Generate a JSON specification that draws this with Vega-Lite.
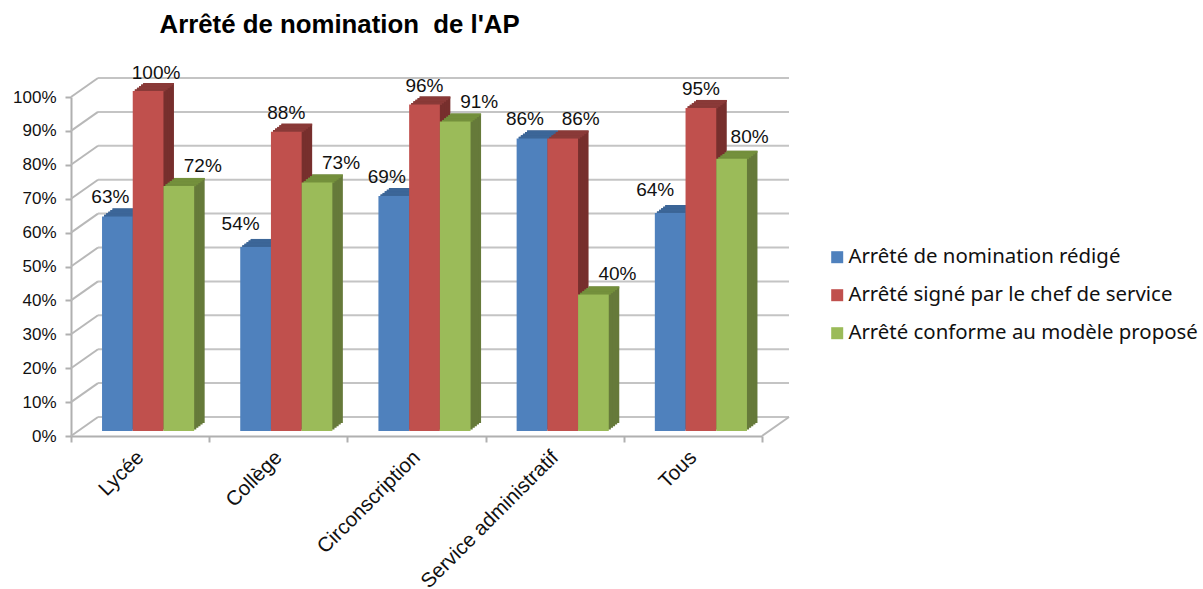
{
"$schema":"https://vega.github.io/schema/vega-lite/v6.json",
"width":691,"height":339,
"autosize":{"type":"none"},
"padding":{"left":71,"top":97,"right":441,"bottom":153},
"background":"white",
"title":{"text":"Arrêté de nomination \u00a0de l'AP","anchor":"start","dx":147,"offset":25,"font":"Liberation Sans","fontSize":25.8,"fontWeight":"bold","color":"black"},
"config":{"view":{"stroke":null},"axis":{"labelOverlap":false},"axisY":{"tickCount":11,"values":[0,0.1,0.2,0.3,0.4,0.5,0.6,0.7,0.8,0.9,1]}},
"datasets":{
"ticks":[{"v":0},{"v":0.1},{"v":0.2},{"v":0.3},{"v":0.4},{"v":0.5},{"v":0.6},{"v":0.7},{"v":0.8},{"v":0.9},{"v":1}],
"floor":[{"v":0}],
"bars":[
{"cat":"Lycée","series":"Arrêté de nomination rédigé","value":0.63},
{"cat":"Lycée","series":"Arrêté signé par le chef de service","value":1},
{"cat":"Lycée","series":"Arrêté conforme au modèle proposé","value":0.72},
{"cat":"Collège","series":"Arrêté de nomination rédigé","value":0.54},
{"cat":"Collège","series":"Arrêté signé par le chef de service","value":0.88},
{"cat":"Collège","series":"Arrêté conforme au modèle proposé","value":0.73},
{"cat":"Circonscription","series":"Arrêté de nomination rédigé","value":0.69},
{"cat":"Circonscription","series":"Arrêté signé par le chef de service","value":0.96},
{"cat":"Circonscription","series":"Arrêté conforme au modèle proposé","value":0.91},
{"cat":"Service administratif","series":"Arrêté de nomination rédigé","value":0.86},
{"cat":"Service administratif","series":"Arrêté signé par le chef de service","value":0.86},
{"cat":"Service administratif","series":"Arrêté conforme au modèle proposé","value":0.40},
{"cat":"Tous","series":"Arrêté de nomination rédigé","value":0.64},
{"cat":"Tous","series":"Arrêté signé par le chef de service","value":0.95},
{"cat":"Tous","series":"Arrêté conforme au modèle proposé","value":0.80}
]},
"layer":[
{"data":{"name":"ticks"},
 "mark":{"type":"rule","color":"#c4c4c4","strokeWidth":2,"xOffset":27,"x2Offset":27,"yOffset":-19,"y2Offset":-19},
 "encoding":{"x":{"datum":"Lycée","bandPosition":0,"type":"nominal"},"x2":{"datum":"Tous","bandPosition":1},"y":{"field":"v","type":"quantitative"},"y2":{"field":"v"}}},
{"data":{"name":"ticks"},
 "mark":{"type":"rule","color":"#b8b8b8","strokeWidth":2,"x2Offset":27,"y2Offset":-19},
 "encoding":{"x":{"datum":"Lycée","bandPosition":0,"type":"nominal"},"x2":{"datum":"Lycée","bandPosition":0},"y":{"field":"v","type":"quantitative"},"y2":{"field":"v"}}},
{"data":{"name":"floor"},
 "mark":{"type":"rule","color":"#b8b8b8","strokeWidth":2,"x2Offset":27,"y2Offset":-19},
 "encoding":{"x":{"datum":"Tous","bandPosition":1,"type":"nominal"},"x2":{"datum":"Tous","bandPosition":1},"y":{"field":"v","type":"quantitative"},"y2":{"field":"v"}}},
{"data":{"name":"bars"},
 "encoding":{
  "x":{"field":"cat","type":"nominal","title":null,"sort":null,
   "scale":{"domain":["Lycée","Collège","Circonscription","Service administratif","Tous"],"paddingInner":0,"paddingOuter":0},
   "axis":{"tickBand":"extent","labelAngle":-45,"labelAlign":"right","labelBaseline":"middle","labelFont":"Liberation Sans","labelFontSize":20.5,"labelColor":"#111","labelPadding":12,"labelLimit":400,"domainColor":"#b0b0b0","domainWidth":2,"tickColor":"#b0b0b0","tickWidth":2,"tickSize":6,"labelOverlap":false,"labelFlush":false,"labelBound":false}},
  "y":{"field":"value","type":"quantitative","stack":null,"title":null,
   "scale":{"domain":[0,1],"nice":false},
   "axis":{"values":[0,0.1,0.2,0.3,0.4,0.5,0.6,0.7,0.8,0.9,1],"tickCount":11,"format":".0%","grid":false,"labelOverlap":false,"labelSeparation":0,"labelFont":"Liberation Sans","labelFontSize":17,"labelColor":"#111","labelPadding":9,"domainColor":"#b0b0b0","domainWidth":2,"tickColor":"#b0b0b0","tickWidth":2,"tickSize":6}}
 },
 "resolve":{"scale":{"color":"independent","xOffset":"independent"}},
 "layer":[
  {"encoding":{"y2":{"datum":0},"color":{"field":"series","sort":null,"legend":null,"scale":{"domain":["Arrêté de nomination rédigé","Arrêté signé par le chef de service","Arrêté conforme au modèle proposé"],"range":["#345a88","#772f2d","#667a3a"]}}},
   "resolve":{"scale":{"xOffset":"independent"}},
   "layer":[
    {"mark":{"type":"bar","yOffset":-14,"y2Offset":-13},"encoding":{"xOffset":{"field":"series","sort":null,"scale":{"range":[18.5,156.7],"paddingInner":0,"paddingOuter":0.75}}}},
    {"mark":{"type":"bar","yOffset":-12.4,"y2Offset":-11.4},"encoding":{"xOffset":{"field":"series","sort":null,"scale":{"range":[16.4,154.6],"paddingInner":0,"paddingOuter":0.75}}}},
    {"mark":{"type":"bar","yOffset":-10.8,"y2Offset":-9.8},"encoding":{"xOffset":{"field":"series","sort":null,"scale":{"range":[14.3,152.5],"paddingInner":0,"paddingOuter":0.75}}}},
    {"mark":{"type":"bar","yOffset":-9.2,"y2Offset":-8.2},"encoding":{"xOffset":{"field":"series","sort":null,"scale":{"range":[12.2,150.4],"paddingInner":0,"paddingOuter":0.75}}}},
    {"mark":{"type":"bar","yOffset":-7.6,"y2Offset":-6.6},"encoding":{"xOffset":{"field":"series","sort":null,"scale":{"range":[10.1,148.3],"paddingInner":0,"paddingOuter":0.75}}}}
   ]},
  {"encoding":{"y2":{"field":"value"},"color":{"field":"series","sort":null,"legend":null,"scale":{"domain":["Arrêté de nomination rédigé","Arrêté signé par le chef de service","Arrêté conforme au modèle proposé"],"range":["#3c6698","#8a3a38","#74903c"]}}},
   "resolve":{"scale":{"xOffset":"independent"}},
   "layer":[
    {"mark":{"type":"bar","yOffset":-14,"y2Offset":-12},"encoding":{"xOffset":{"field":"series","sort":null,"scale":{"range":[18.5,156.7],"paddingInner":0,"paddingOuter":0.75}}}},
    {"mark":{"type":"bar","yOffset":-12.4,"y2Offset":-10.4},"encoding":{"xOffset":{"field":"series","sort":null,"scale":{"range":[16.4,154.6],"paddingInner":0,"paddingOuter":0.75}}}},
    {"mark":{"type":"bar","yOffset":-10.8,"y2Offset":-8.8},"encoding":{"xOffset":{"field":"series","sort":null,"scale":{"range":[14.3,152.5],"paddingInner":0,"paddingOuter":0.75}}}},
    {"mark":{"type":"bar","yOffset":-9.2,"y2Offset":-7.2},"encoding":{"xOffset":{"field":"series","sort":null,"scale":{"range":[12.2,150.4],"paddingInner":0,"paddingOuter":0.75}}}},
    {"mark":{"type":"bar","yOffset":-7.6,"y2Offset":-5.6},"encoding":{"xOffset":{"field":"series","sort":null,"scale":{"range":[10.1,148.3],"paddingInner":0,"paddingOuter":0.75}}}}
   ]},
  {"mark":{"type":"bar","yOffset":-6,"y2Offset":-5},
   "encoding":{"xOffset":{"field":"series","sort":null,"scale":{"range":[8,146.2],"paddingInner":0,"paddingOuter":0.75}},"y2":{"datum":0},"color":{"field":"series","sort":null,"title":null,
     "scale":{"domain":["Arrêté de nomination rédigé","Arrêté signé par le chef de service","Arrêté conforme au modèle proposé"],"range":["#4f81bd","#c0504d","#9bbb59"]},
     "legend":{"orient":"none","legendX":756,"legendY":150,"symbolType":"square","symbolSize":144,"symbolStrokeWidth":0,"labelFont":"Noto Sans","labelFontSize":20.4,"labelColor":"#111","labelOffset":1,"rowPadding":17,"labelLimit":400}}}},
  {"encoding":{"xOffset":{"field":"series","type":"nominal","sort":null,"scale":{"type":"band","domain":["Arrêté de nomination rédigé","Arrêté signé par le chef de service","Arrêté conforme au modèle proposé"],"range":[0,138.2],"paddingInner":0,"paddingOuter":0.75}}},
   "layer":[
  {"transform":[{"filter":"datum.series=='Arrêté de nomination rédigé' && (datum.cat=='Lycée'||datum.cat=='Circonscription'||datum.cat=='Service administratif')"}],
   "mark":{"type":"text","font":"Liberation Sans","fontSize":19,"color":"#111","dx":1,"dy":-25},"encoding":{"text":{"field":"value","format":".0%"}}},
  {"transform":[{"filter":"datum.series=='Arrêté de nomination rédigé' && (datum.cat=='Collège'||datum.cat=='Tous')"}],
   "mark":{"type":"text","font":"Liberation Sans","fontSize":19,"color":"#111","dx":-7,"dy":-29},"encoding":{"text":{"field":"value","format":".0%"}}},
  {"transform":[{"filter":"datum.series=='Arrêté signé par le chef de service' && (datum.cat=='Collège'||datum.cat=='Circonscription'||datum.cat=='Tous')"}],
   "mark":{"type":"text","font":"Liberation Sans","fontSize":19,"color":"#111","dx":8,"dy":-25},"encoding":{"text":{"field":"value","format":".0%"}}},
  {"transform":[{"filter":"datum.series=='Arrêté signé par le chef de service' && datum.cat=='Lycée'"}],
   "mark":{"type":"text","font":"Liberation Sans","fontSize":19,"color":"#111","dx":16,"dy":-24},"encoding":{"text":{"field":"value","format":".0%"}}},
  {"transform":[{"filter":"datum.series=='Arrêté signé par le chef de service' && datum.cat=='Service administratif'"}],
   "mark":{"type":"text","font":"Liberation Sans","fontSize":19,"color":"#111","dx":26,"dy":-25},"encoding":{"text":{"field":"value","format":".0%"}}},
  {"transform":[{"filter":"datum.series=='Arrêté conforme au modèle proposé' && datum.cat!='Tous'"}],
   "mark":{"type":"text","font":"Liberation Sans","fontSize":19,"color":"#111","dx":32,"dy":-26},"encoding":{"text":{"field":"value","format":".0%"}}},
  {"transform":[{"filter":"datum.series=='Arrêté conforme au modèle proposé' && datum.cat=='Tous'"}],
   "mark":{"type":"text","font":"Liberation Sans","fontSize":19,"color":"#111","dx":26,"dy":-28},"encoding":{"text":{"field":"value","format":".0%"}}}
  ]}
 ]}
]
}
